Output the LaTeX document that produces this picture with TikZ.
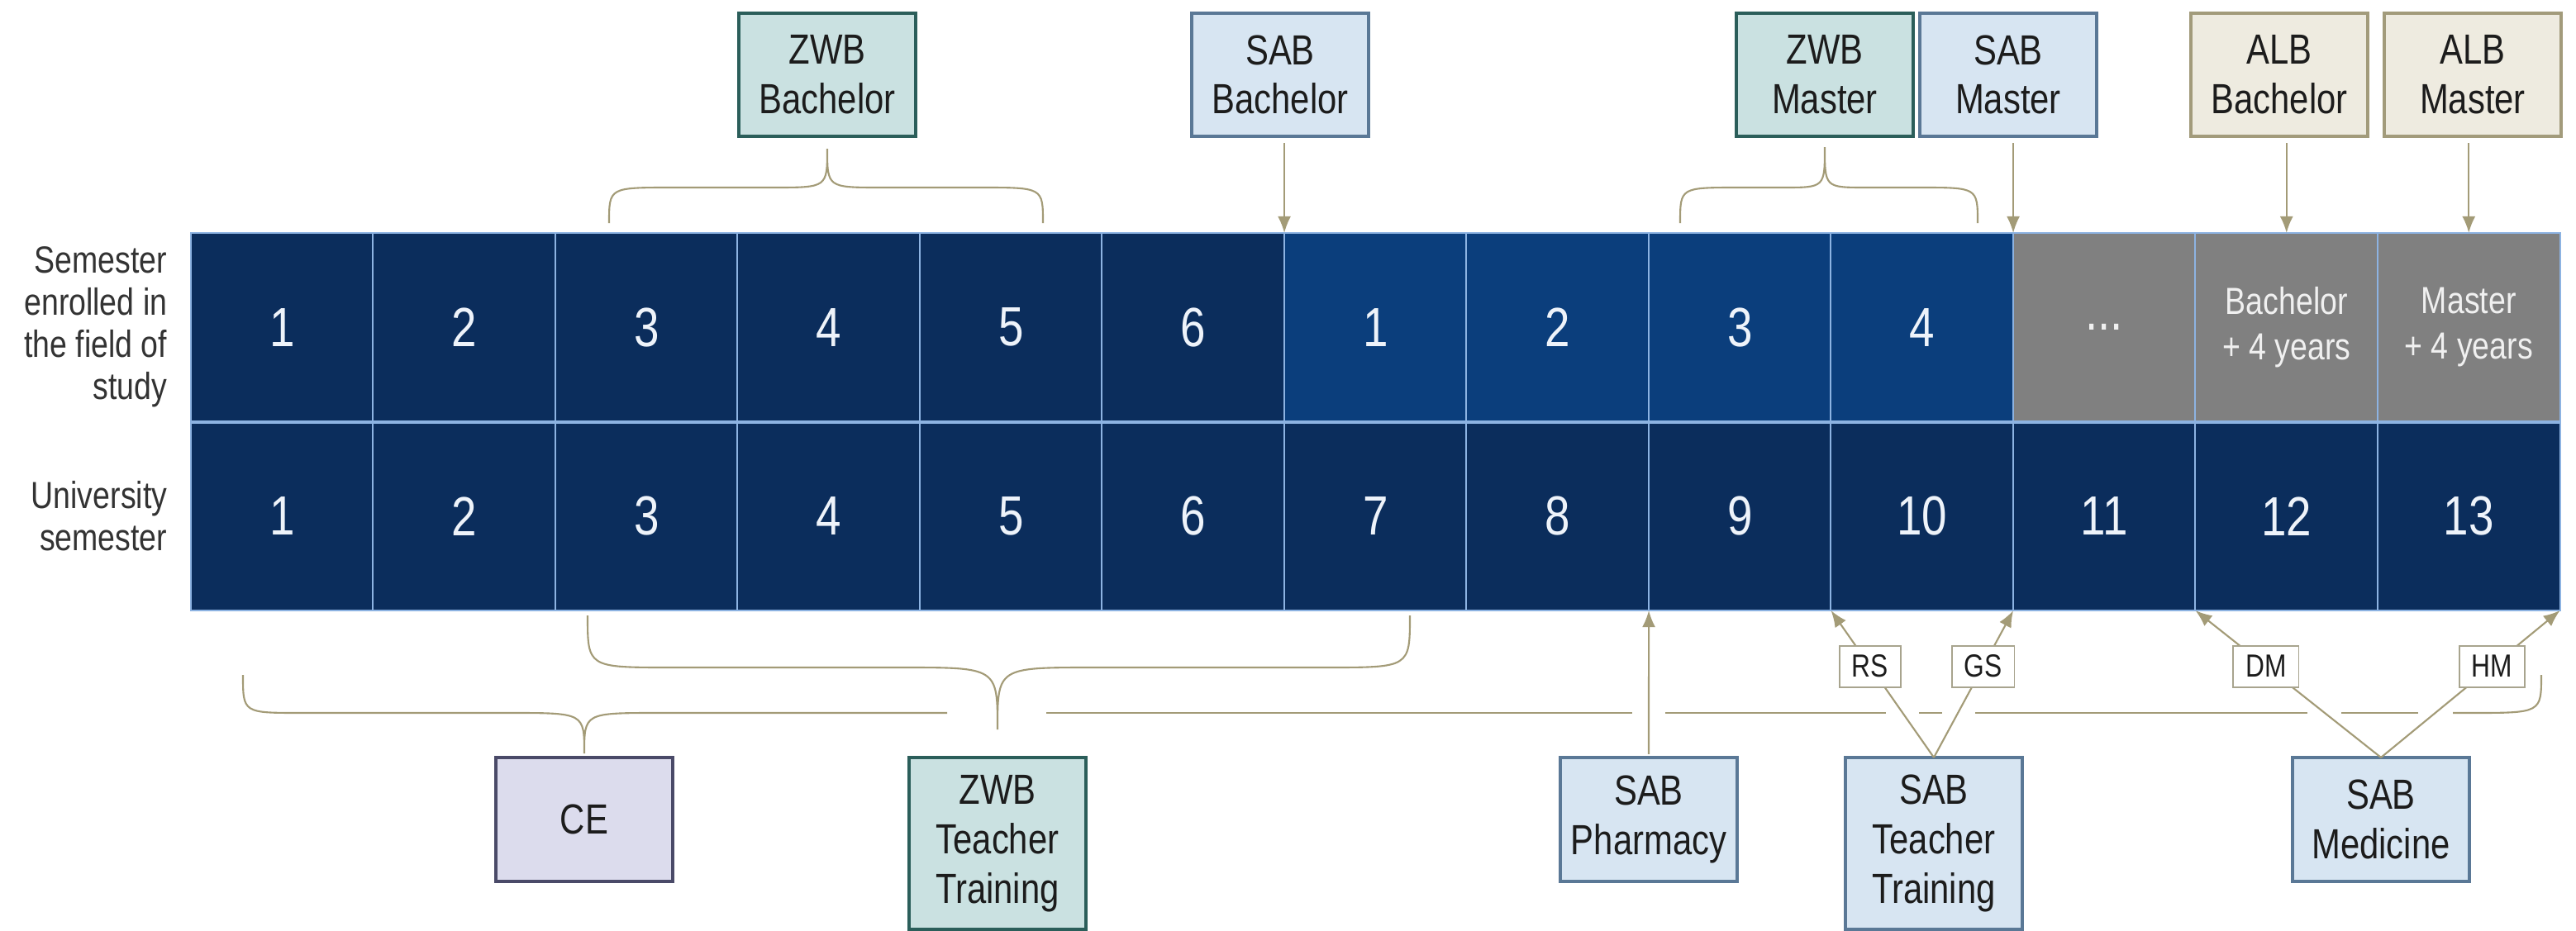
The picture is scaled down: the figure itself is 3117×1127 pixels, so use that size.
\documentclass[tikz,border=0pt]{standalone}
\usepackage{fontspec}
\setmainfont[FakeStretch=0.82]{Liberation Sans}
\usetikzlibrary{arrows.meta,calc}
\definecolor{navy}{HTML}{0B2D5C}
\definecolor{midblue}{HTML}{0B3E7C}
\definecolor{cellgray}{HTML}{808080}
\definecolor{cellline}{HTML}{8DB3E2}
\definecolor{zwbfill}{HTML}{CAE1E1}
\definecolor{zwbline}{HTML}{2B5E5A}
\definecolor{sabfill}{HTML}{D7E5F2}
\definecolor{sabline}{HTML}{5A7896}
\definecolor{albfill}{HTML}{EEEBE0}
\definecolor{albline}{HTML}{A29B7B}
\definecolor{cefill}{HTML}{DCDCED}
\definecolor{celine}{HTML}{4A4A68}
\definecolor{khaki}{HTML}{A39B77}
\definecolor{lblline}{HTML}{A8A48E}
\definecolor{txt}{HTML}{1C1C1C}
\definecolor{sidetxt}{HTML}{333333}
\definecolor{numtxt}{HTML}{EEF3FA}
\definecolor{graytxt}{HTML}{F0F0F0}
\newcommand\myNumFont{\fontsize{19}{22}\selectfont}
\newcommand\myBoxFont{\fontsize{14.5}{17}\selectfont}
\newcommand\mySideFont{\fontsize{13}{14.5}\selectfont}
\newcommand\myGrayFont{\fontsize{13}{15.6}\selectfont}
\newcommand\myLblFont{\fontsize{11}{13}\selectfont}
\tikzset{
  cell/.style={draw=cellline, line width=0.55pt, minimum width=2.205cm, minimum height=2.285cm,
    inner sep=0pt, outer sep=0pt, text=numtxt, font=\myNumFont},
  graycell/.style={cell, fill=cellgray, text=graytxt, align=center, font=\myGrayFont},
  box/.style={line width=1pt, minimum width=2.14cm, align=center, inner sep=0pt, outer sep=0pt,
    font=\myBoxFont, text=txt},
  zwb/.style={box, fill=zwbfill, draw=zwbline},
  sab/.style={box, fill=sabfill, draw=sabline},
  alb/.style={box, fill=albfill, draw=albline},
  ce/.style={box, fill=cefill, draw=celine},
  topbox/.style={minimum height=1.49cm},
  botbox/.style={minimum height=1.5cm},
  tallbox/.style={minimum height=2.08cm},
  side/.style={align=right, font=\mySideFont, text=sidetxt, inner sep=0pt},
  brace/.style={draw=khaki, line width=0.6pt},
  arr/.style={draw=khaki, line width=0.6pt, -{Latex[length=0.2cm,width=0.16cm]}},
  lbl/.style={draw=lblline, fill=white, line width=0.5pt, font=\myLblFont, text=txt,
    minimum height=0.5cm, inner xsep=0.15cm, inner ysep=0pt},
}
\begin{document}
\begin{tikzpicture}[x=0.01cm,y=-0.01cm]
\useasboundingbox[fill=white] (0,0) rectangle (3117,1127);

% grid, top row
\foreach \i/\t/\c in {1/1/navy,2/2/navy,3/3/navy,4/4/navy,5/5/navy,6/6/navy,
                      7/1/midblue,8/2/midblue,9/3/midblue,10/4/midblue}
  \node[cell, fill=\c] (t\i) at ({231+220.5*(\i-0.5)},396.25) {\t};
\node[graycell, font=\myNumFont] (t11) at ({231+220.5*10.5},396.25) {...};
\node[graycell] (t12) at ({231+220.5*11.5},396.25) {Bachelor\\+ 4 years};
\node[graycell] (t13) at ({231+220.5*12.5},396.25) {Master\\+ 4 years};
% grid, bottom row
\foreach \i in {1,...,13}
  \node[cell, fill=navy] (u\i) at ({231+220.5*(\i-0.5)},624.75) {\i};
\draw[cellline, line width=1.1pt] (t1.south west) -- (t13.south east);

% row labels
\node[side, anchor=east] (lab1) at (203,396) {Semester\\enrolled in\\the field of\\study};
\node[side, anchor=east] (lab2) at (203,625) {University\\semester};

% top boxes
\node[zwb, topbox] (zwbb) at (1001,90.5) {ZWB\\Bachelor};
\node[sab, topbox] (sabb) at (1549,90.5) {SAB\\Bachelor};
\node[zwb, topbox] (zwbm) at (2208,90.5) {ZWB\\Master};
\node[sab, topbox] (sabm) at (2430,90.5) {SAB\\Master};
\node[alb, topbox] (albb) at (2758,90.5) {ALB\\Bachelor};
\node[alb, topbox] (albm) at (2992,90.5) {ALB\\Master};

% bottom boxes
\node[ce, botbox] (ce) at (707,992) {CE};
\node[zwb, tallbox] (zwbtt) at (1207,1021) {ZWB\\Teacher\\Training};
\node[sab, botbox] (pharm) at (1995,992) {SAB\\Pharmacy};
\node[sab, tallbox] (sabtt) at (2340,1021) {SAB\\Teacher\\Training};
\node[sab, botbox] (sabmed) at (2881,992) {SAB\\Medicine};

% top braces
\draw[brace] (737,270) .. controls (737,227) .. (812,227) -- (936,227)
  .. controls (1001,227) .. (1001,180) .. controls (1001,227) .. (1066,227)
  -- (1187,227) .. controls (1262,227) .. (1262,270);
\draw[brace] (2033,270) .. controls (2033,227) .. (2103,227) -- (2158,227)
  .. controls (2208,227) .. (2208,178) .. controls (2208,227) .. (2258,227)
  -- (2323,227) .. controls (2393,227) .. (2393,270);

% top arrows
\draw[arr, shorten <=0.08cm] (sabb.south -| t6.north east) -- (t6.north east);
\draw[arr, shorten <=0.08cm] (sabm.south -| t10.north east) -- (t10.north east);
\draw[arr, shorten <=0.08cm] (albb.south -| t12.north) -- (t12.north);
\draw[arr, shorten <=0.08cm] (albm.south -| t13.north) -- (t13.north);

% bottom braces
\draw[brace] (711,745) .. controls (711,808) .. (811,808) -- (1092,808)
  .. controls (1207,808) .. (1207,883) .. controls (1207,808) .. (1322,808)
  -- (1606,808) .. controls (1706,808) .. (1706,745);
\draw[brace] (294,817) .. controls (294,863) .. (364,863) -- (617,863)
  .. controls (707,863) .. (707,912) .. controls (707,863) .. (797,863) -- (1146,863);
\draw[brace] (1266,863) -- (1975,863);
\draw[brace] (2015,863) -- (2282,863);
\draw[brace] (2322,863) -- (2350,863);
\draw[brace] (2390,863) -- (2792,863);
\draw[brace] (2833,863) -- (2926,863);
\draw[brace] (2968,863) -- (2990,863) .. controls (3075,863) .. (3075,817);

% bottom arrows
\draw[arr, shorten <=0.04cm] (pharm.north) -- (u8.south east);
\draw[arr] (sabtt.north) -- node[lbl, pos=0.62] (rs) {RS} (u9.south east);
\draw[arr] (sabtt.north) -- node[lbl, pos=0.62] (gs) {GS} (u10.south east);
\draw[arr] (sabmed.north) -- node[lbl, pos=0.62] (dm) {DM} (u11.south east);
\draw[arr] (sabmed.north) -- node[lbl, pos=0.62] (hm) {HM} (u13.south east);
\end{tikzpicture}
\end{document}
